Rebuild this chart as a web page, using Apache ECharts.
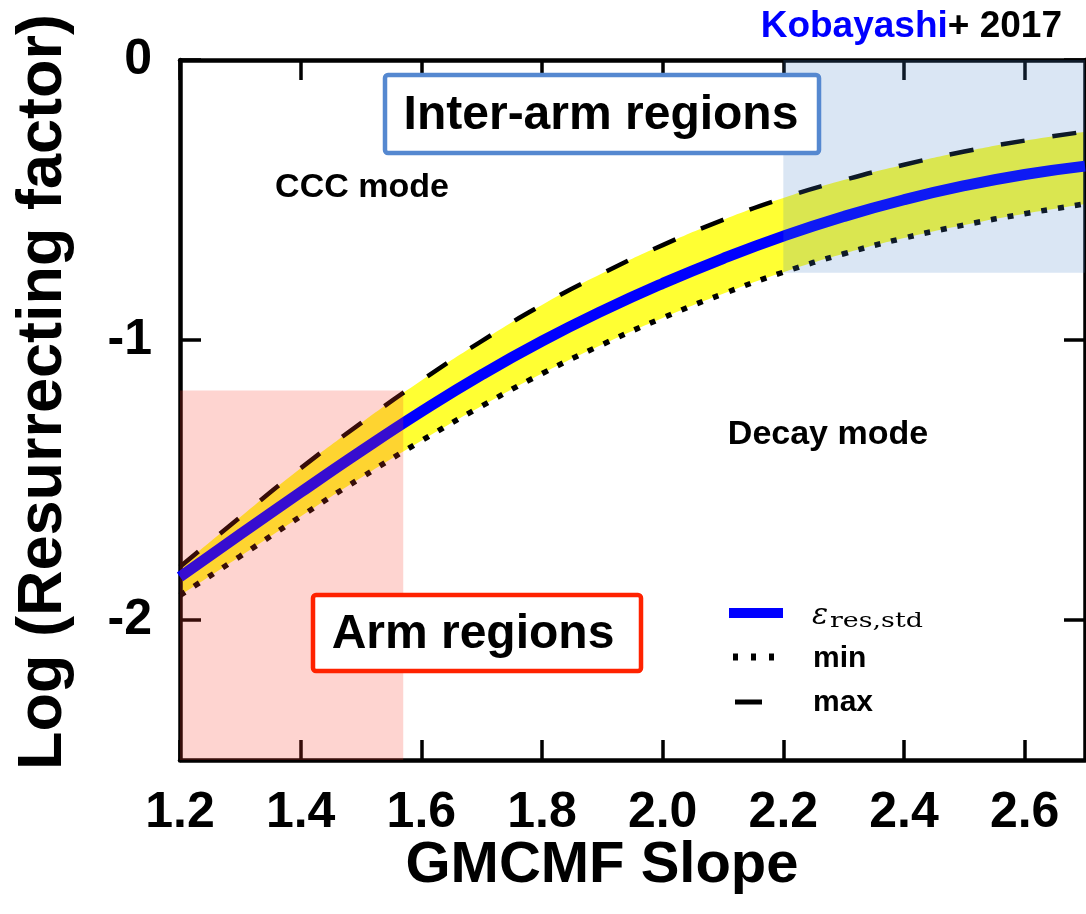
<!DOCTYPE html>
<html>
<head>
<meta charset="utf-8">
<script src="https://cdn.jsdelivr.net/npm/echarts@6/dist/echarts.min.js"></script>
<style>
  html, body { margin: 0; padding: 0; background: #ffffff; }
  #chart { width: 1086px; height: 914px; }
</style>
</head>
<body>
<div id="chart"></div>
<script>
// GMCMF slope grid
const slopes = [1.2, 1.3, 1.4, 1.5, 1.6, 1.7, 1.8, 1.9, 2.0, 2.1, 2.2, 2.3, 2.4, 2.5, 2.6, 2.7];
// log resurrecting factor: standard, minimum and maximum cases
const resStd = [-1.846, -1.694, -1.544, -1.397, -1.256, -1.124, -1.004, -0.896, -0.798, -0.709, -0.629, -0.559, -0.499, -0.449, -0.409, -0.379];
const resMax = [-1.81, -1.632, -1.458, -1.297, -1.145, -1.004, -0.875, -0.762, -0.661, -0.571, -0.493, -0.429, -0.374, -0.327, -0.288, -0.256];
const resMin = [-1.912, -1.772, -1.630, -1.492, -1.360, -1.236, -1.120, -1.016, -0.921, -0.835, -0.758, -0.692, -0.636, -0.589, -0.549, -0.514];

// shaded regimes: [slopeFrom, slopeTo, logFrom, logTo]
const armRegion = [1.2, 1.57, -2.5, -1.18];
const interArmRegion = [2.2, 2.7, -0.76, 0];

// axis ticks
const xTicks = [1.2, 1.4, 1.6, 1.8, 2.0, 2.2, 2.4, 2.6];
const yTicks = [0, -1, -2];

const SANS = '"Liberation Sans", Arial, Helvetica, sans-serif';
const SERIF = '"DejaVu Serif", "Liberation Serif", serif';

const pairs = vals => slopes.map((s, i) => [s, vals[i]]);

function axisX(position, withLabels) {
  return {
    type: 'value', min: 1.2, max: 2.7, position: position, z: 3,
    splitLine: { show: false },
    axisLine: { show: true, onZero: false, lineStyle: { color: '#000', width: 4.5 } },
    axisTick: { show: true, inside: true, length: 20, customValues: xTicks, lineStyle: { color: '#000', width: 3.5 } },
    axisLabel: withLabels ? {
      customValues: xTicks, formatter: v => v.toFixed(1), margin: 28,
      fontSize: 50, fontWeight: 'bold', color: '#000', fontFamily: SANS
    } : { show: false }
  };
}
function axisY(position, withLabels) {
  return {
    type: 'value', min: -2.5, max: 0, position: position, z: 3,
    splitLine: { show: false },
    axisLine: { show: true, onZero: false, lineStyle: { color: '#000', width: 4.5 } },
    axisTick: { show: true, inside: true, length: 21, customValues: yTicks, lineStyle: { color: '#000', width: 3.5 } },
    axisLabel: withLabels ? {
      customValues: yTicks, formatter: v => String(v), margin: 28,
      fontSize: 50, fontWeight: 'bold', color: '#000', fontFamily: SANS
    } : { show: false }
  };
}

const regionColors = ['rgba(250, 60, 40, 0.22)', 'rgba(70, 130, 200, 0.2)'];

const chart = echarts.init(document.getElementById('chart'), null, { renderer: 'canvas' });
chart.setOption({
  animation: false,
  backgroundColor: '#ffffff',
  grid: { left: 180, right: 1, top: 60, bottom: 154, outerBoundsMode: 'none' },
  xAxis: [axisX('bottom', true), axisX('top', false)],
  yAxis: [axisY('left', true), axisY('right', false)],
  series: [
    // yellow range between min and max: fill below max, then blank out below min
    {
      name: 'rangeUpper', type: 'line', data: pairs(resMax), z: 1,
      smooth: true, symbol: 'none', silent: true, lineStyle: { width: 0, opacity: 0 },
      areaStyle: { color: '#ffff33', opacity: 1, origin: 'start' }
    },
    {
      name: 'rangeLower', type: 'line', data: pairs(resMin), z: 1,
      smooth: true, symbol: 'none', silent: true, lineStyle: { width: 0, opacity: 0 },
      areaStyle: { color: '#ffffff', opacity: 1, origin: 'start' }
    },
    {
      name: 'max', type: 'line', data: pairs(resMax), smooth: true, symbol: 'none',
      lineStyle: { color: '#000', width: 4.5, type: [24, 28], cap: 'butt' }
    },
    {
      name: 'min', type: 'line', data: pairs(resMin), smooth: true, symbol: 'none',
      lineStyle: { color: '#000', width: 5.5, type: [6, 11], cap: 'butt' }
    },
    {
      name: 'std', type: 'line', data: pairs(resStd), smooth: true, symbol: 'none',
      lineStyle: { color: '#0000ff', width: 11 }
    },
    {
      name: 'regions', type: 'custom', z: 5, silent: true,
      data: [armRegion, interArmRegion],
      encode: { x: [0, 1], y: [2, 3] },
      renderItem: function (params, api) {
        const p0 = api.coord([api.value(0), api.value(3)]);
        const p1 = api.coord([api.value(1), api.value(2)]);
        return {
          type: 'rect',
          shape: { x: p0[0], y: p0[1], width: p1[0] - p0[0], height: p1[1] - p0[1] },
          style: { fill: regionColors[params.dataIndex] }
        };
      }
    }
  ],
  graphic: [
    // axis titles
    {
      type: 'text', z: 100, x: 44, y: 392, rotation: Math.PI / 2,
      style: { text: 'Log (Resurrecting factor)', font: 'bold 63px ' + SANS, fill: '#000', align: 'center', verticalAlign: 'middle' }
    },
    {
      type: 'text', z: 100, x: 602, y: 866,
      style: { text: 'GMCMF Slope', font: 'bold 58px ' + SANS, fill: '#000', align: 'center', verticalAlign: 'middle' }
    },
    // citation
    {
      type: 'text', z: 100, x: 1062, y: 27,
      style: {
        text: '{a|Kobayashi}{b|+ 2017}', align: 'right', verticalAlign: 'middle',
        rich: {
          a: { fill: '#0000ff', fontSize: 37, fontWeight: 'bold', fontFamily: SANS },
          b: { fill: '#000000', fontSize: 37, fontWeight: 'bold', fontFamily: SANS }
        }
      }
    },
    // region boxes
    {
      type: 'rect', z: 100, shape: { x: 385, y: 75, width: 434, height: 78, r: 3 },
      style: { fill: '#ffffff', stroke: '#5588d0', lineWidth: 4.5 }
    },
    {
      type: 'text', z: 101, x: 601, y: 116,
      style: { text: 'Inter-arm regions', font: 'bold 48px ' + SANS, fill: '#000', align: 'center', verticalAlign: 'middle' }
    },
    {
      type: 'rect', z: 100, shape: { x: 313, y: 595, width: 328, height: 76, r: 3 },
      style: { fill: '#ffffff', stroke: '#ff2200', lineWidth: 4.5 }
    },
    {
      type: 'text', z: 101, x: 473, y: 635,
      style: { text: 'Arm regions', font: 'bold 48px ' + SANS, fill: '#000', align: 'center', verticalAlign: 'middle' }
    },
    // mode labels
    {
      type: 'text', z: 100, x: 362, y: 188,
      style: { text: 'CCC mode', font: 'bold 34px ' + SANS, fill: '#000', align: 'center', verticalAlign: 'middle' }
    },
    {
      type: 'text', z: 100, x: 828, y: 435,
      style: { text: 'Decay mode', font: 'bold 34px ' + SANS, fill: '#000', align: 'center', verticalAlign: 'middle' }
    },
    // key
    {
      type: 'line', z: 100, shape: { x1: 729, y1: 613, x2: 783, y2: 613 },
      style: { stroke: '#0000ff', lineWidth: 10 }
    },
    {
      type: 'line', z: 100, shape: { x1: 733, y1: 657, x2: 775, y2: 657 },
      style: { stroke: '#000', lineWidth: 7, lineDash: [5, 13] }
    },
    {
      type: 'line', z: 100, shape: { x1: 735, y1: 702, x2: 762, y2: 702 },
      style: { stroke: '#000', lineWidth: 5 }
    },
    {
      type: 'text', z: 100, x: 812, y: 616,
      style: { text: 'ε', font: 'italic 30px ' + SERIF, fill: '#000', align: 'left', verticalAlign: 'middle' }
    },
    {
      type: 'text', z: 100, x: 830, y: 622, scaleX: 1.28,
      style: { text: 'res,std', font: '21px ' + SERIF, fill: '#000', align: 'left', verticalAlign: 'middle' }
    },
    {
      type: 'text', z: 100, x: 813, y: 659,
      style: { text: 'min', font: 'bold 30px ' + SANS, fill: '#000', align: 'left', verticalAlign: 'middle' }
    },
    {
      type: 'text', z: 100, x: 813, y: 703,
      style: { text: 'max', font: 'bold 30px ' + SANS, fill: '#000', align: 'left', verticalAlign: 'middle' }
    }
  ]
});
</script>
</body>
</html>
